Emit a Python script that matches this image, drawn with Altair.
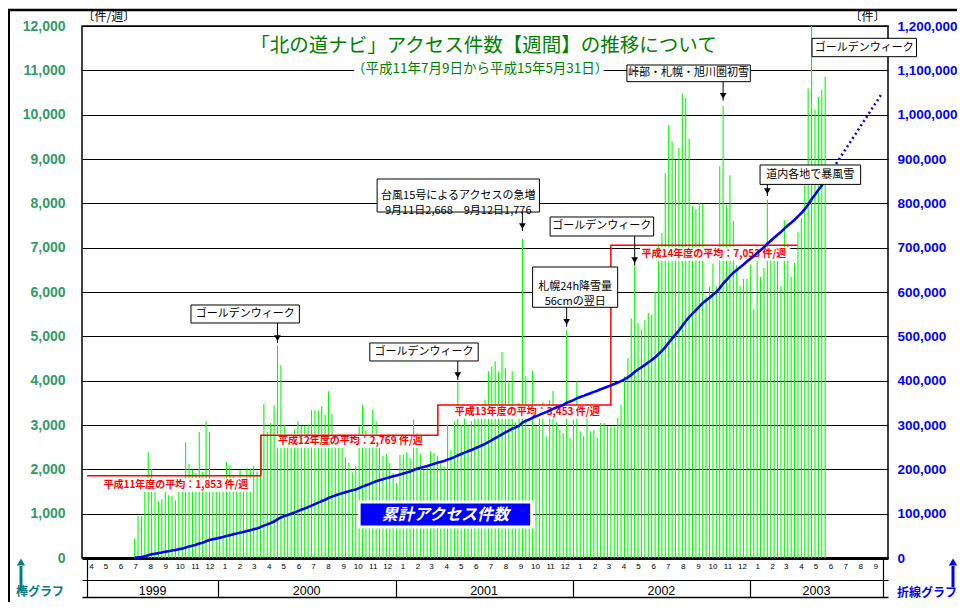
import altair as alt
import pandas as pd

JP = "Noto Sans CJK JP"
NUM = "Liberation Sans"

# ---------------- data ----------------
week_start = "1999-07-14"
weekly_counts = [
    436, 947, 947, 1526, 2383, 2015, 1526, 1286, 1323, 1526,
    1413, 1391, 1300, 1526, 1600, 2609, 2128, 1992, 1917, 2842,
    1940, 3083, 2842, 1600, 1600, 1752, 1752, 2165, 2105, 1880,
    1767, 1977, 1600, 2030, 2015, 2075, 1950, 2782, 3466, 2842,
    3045, 3444, 4797, 4346, 3000, 2700, 2650, 2900, 3090, 2985,
    2985, 3015, 3331, 3331, 3331, 3421, 3233, 3759, 3248, 2684,
    2600, 2481, 2271, 2143, 1932, 2068, 2970, 3459, 2895, 2632,
    3346, 3083, 2481, 2300, 2346, 2143, 1917, 1692, 2331, 2331,
    2383, 2256, 3120, 2820, 2346, 1992, 2053, 2406, 2368, 2308,
    2200, 2068, 3008, 2444, 3083, 3962, 3008, 3195, 3008, 3083,
    3346, 3233, 3400, 3571, 4211, 4323, 4436, 4211, 4647, 4286,
    3985, 4211, 3060, 3496, 7195, 4098, 2932, 4226, 2970, 3286,
    3511, 2744, 3556, 3774, 3060, 2895, 2820, 5135, 2707, 3120,
    3985, 2857, 2744, 3233, 2857, 2895, 2707, 3045, 3045, 2970,
    2970, 2970, 3158, 3459, 4098, 4511, 5400, 6744, 5301, 5150,
    5376, 5526, 5489, 6000, 7068, 7331, 8684, 9774, 9398, 8985,
    9248, 10474, 10376, 9459, 7932, 7872, 8008, 7992, 5902, 6128,
    6639, 6128, 8835, 10203, 7960, 8635, 7603, 6602, 6129, 6292,
    6292, 6618, 5624, 7067, 6346, 6540, 8076, 6734, 6943, 6757,
    6137, 7626, 7083, 6346, 6656, 7355, 7665, 8600, 10593, 12000,
    10113, 10400, 10564, 10850,
]

fy_numbers = [11, 12, 13, 14]
fy_averages = [1853, 2769, 3453, 7053]
fy_starts = ["1999-04-07", "2000-03-30", "2001-03-29", "2002-03-20"]
fy_final_end = "2003-04-08"
fy_label_dates = ["1999-05-11", "2000-05-04", "2001-05-03", "2002-05-22"]
fy_label_values = [1647, 2639, 3293, 6857]

projection_end_date = "2003-09-30"
projection_end_total = 1050000

title_text = "「北の道ナビ」アクセス件数【週間】の推移について"
subtitle_text = "（平成11年7月9日から平成15年5月31日）"
title_date, title_value = "2001-07-01", 11550
subtitle_date, subtitle_value = "2001-06-24", 11040
subtitle_bg = ("2000-10-08", "2002-03-05", 10860, 11200)

sum_box_text = "累計アクセス件数"
sum_box = ("2000-10-18", "2001-10-08", 699, 1263)

ann_texts = [
    "ゴールデンウィーク",
    "ゴールデンウィーク",
    "台風15号によるアクセスの急増\n9月11日2,668　9月12日1,776",
    "ゴールデンウィーク",
    "札幌24h降雪量\n56cmの翌日",
    "峠部・札幌・旭川圏初雪",
    "道内各地で暴風雪",
    "ゴールデンウィーク",
]
ann_x0 = ["1999-11-07", "2000-11-09", "2000-11-24", "2001-11-15", "2001-10-10", "2002-04-22", "2003-01-21", "2003-05-08"]
ann_x1 = ["2000-06-17", "2001-06-20", "2001-10-24", "2002-06-16", "2002-04-03", "2003-01-01", "2003-08-16", "2003-12-09"]
ann_ytop = [5707, 4850, 8549, 7692, 6564, 11120, 8865, 11722]
ann_ybot = [5301, 4444, 7804, 7263, 5655, 10744, 8427, 11308]

arrow_dates = ["2000-05-03", "2001-05-09", "2001-09-19", "2002-05-08", "2001-12-19", "2002-11-06", "2003-02-05"]
arrow_from = [5301, 4444, 7804, 7263, 5655, 10744, 8427]
arrow_tips = [4850, 4015, 7376, 6609, 5217, 10315, 8165]

x_domain = ["1999-04-07", "2003-10-01"]
month_ticks = ([(1999, m) for m in range(4, 13)]
               + [(y, m) for y in (2000, 2001, 2002) for m in range(1, 13)]
               + [(2003, m) for m in range(1, 10)])
year_label_dates = ["1999-08-19", "2000-07-01", "2001-07-01", "2002-07-01", "2003-05-16"]
year_edges = ["2000-01-01", "2001-01-01", "2002-01-01", "2003-01-01"]
left_ticks = list(range(0, 12001, 1000))
right_ticks = list(range(0, 1200001, 100000))


def dt(s):
    y, m, d = (int(p) for p in s.split("-"))
    return alt.DateTime(year=y, month=m, date=d)


# ---------------- tables ----------------
bars_df = pd.DataFrame({
    "date": pd.date_range(week_start, periods=len(weekly_counts), freq="7D"),
    "count": weekly_counts,
})

step_df = pd.DataFrame({
    "date": pd.to_datetime(fy_starts + [fy_final_end]),
    "avg": fy_averages + [fy_averages[-1]],
})

fy_df = pd.DataFrame({
    "date": pd.to_datetime(fy_label_dates),
    "value": fy_label_values,
    "label": [f"平成{n}年度の平均：{a:,} 件/週" for n, a in zip(fy_numbers, fy_averages)],
})
fy_df["bx0"] = fy_df["date"] - pd.Timedelta(days=3)
fy_df["bx1"] = fy_df["date"] + pd.Timedelta(days=306)
fy_df["by0"] = fy_df["value"] - 150
fy_df["by1"] = fy_df["value"] + 150

proj_df = pd.DataFrame({
    "date": [bars_df["date"].iloc[-1], pd.Timestamp(projection_end_date)],
    "total": [sum(weekly_counts), projection_end_total],
})

ann_df = pd.DataFrame({
    "text": ann_texts,
    "x0": pd.to_datetime(ann_x0),
    "x1": pd.to_datetime(ann_x1),
    "ytop": ann_ytop,
    "ybot": ann_ybot,
})
ann_df["xc"] = ann_df["x0"] + (ann_df["x1"] - ann_df["x0"]) / 2
ann_df["yc"] = (ann_df["ytop"] + ann_df["ybot"]) / 2

arrow_df = pd.DataFrame({
    "date": pd.to_datetime(arrow_dates),
    "from": arrow_from,
    "tip": arrow_tips,
})
arrow_df["head"] = arrow_df["tip"] + 110

title_df = pd.DataFrame({"date": pd.to_datetime([title_date]), "value": [title_value], "t": [title_text]})
subtitle_df = pd.DataFrame({"date": pd.to_datetime([subtitle_date]), "value": [subtitle_value], "t": [subtitle_text]})
subbg_df = pd.DataFrame({"x0": pd.to_datetime([subtitle_bg[0]]), "x1": pd.to_datetime([subtitle_bg[1]]),
                         "y0": [subtitle_bg[2]], "y1": [subtitle_bg[3]]})
sumbox_df = pd.DataFrame({"x0": pd.to_datetime([sum_box[0]]), "x1": pd.to_datetime([sum_box[1]]),
                          "y0": [sum_box[2]], "y1": [sum_box[3]], "t": [sum_box_text]})
sumbox_df["xc"] = sumbox_df["x0"] + (sumbox_df["x1"] - sumbox_df["x0"]) / 2
sumbox_df["yc"] = (sumbox_df["y0"] + sumbox_df["y1"]) / 2

one_df = pd.DataFrame({"d": pd.to_datetime(["2001-01-01"]), "k": [0]})

# ---------------- scales / axes ----------------
X_SCALE = alt.Scale(domain=[dt(x_domain[0]), dt(x_domain[1])])
L_SCALE = alt.Scale(domain=[0, 12000], nice=False)
R_SCALE = alt.Scale(domain=[0, 1200000], nice=False)


def X(field, axis=None):
    return alt.X(f"{field}:T", scale=X_SCALE, axis=axis)


def YL(field, axis=None):
    return alt.Y(f"{field}:Q", scale=L_SCALE, axis=axis)


def YR(field, axis=None):
    return alt.Y(f"{field}:Q", scale=R_SCALE, axis=axis)


month_axis = alt.Axis(
    orient="bottom", values=[alt.DateTime(year=y, month=m, date=15) for y, m in month_ticks],
    format="%-m", labelFontSize=8, labelFont=NUM, labelColor="black", ticks=False, tickSize=0,
    domain=True, domainColor="black", domainWidth=3, grid=False, labelPadding=4,
    labelOverlap=False, labelFlush=False, title=None)

left_axis = alt.Axis(
    orient="left", values=left_ticks, format=",d", labelColor="#339966", labelFont=NUM,
    labelFontSize=14, labelFontWeight="bold", labelPadding=17, ticks=False, tickSize=0,
    domain=False, grid=True, gridColor="black", gridWidth=1.2,
    title="〔件/週〕", titleAngle=0, titleX=0, titleY=-3, titleAlign="left",
    titleBaseline="bottom", titleFont=JP, titleFontSize=12, titleFontWeight="normal",
    titleColor="black")

right_axis = alt.Axis(
    orient="right", values=right_ticks, format=",d", labelColor="#0000FF", labelFont=NUM,
    labelFontSize=13.5, labelFontWeight="bold", labelPadding=9, ticks=False, tickSize=0,
    domain=False, grid=False,
    title="〔件〕", titleAngle=0, titleX=-3, titleY=-3, titleAlign="right",
    titleBaseline="bottom", titleFont=JP, titleFontSize=12, titleFontWeight="normal",
    titleColor="black")

edge_axis = alt.Axis(
    orient="bottom", values=[dt(x_domain[0]), dt(x_domain[1])], labels=False,
    tickSize=39, tickColor="black", tickWidth=1.2, domain=False, grid=False, title=None)

yearline_axis = alt.Axis(
    orient="bottom", values=[dt(s) for s in year_edges], labels=False, tickSize=17,
    tickColor="black", tickWidth=1.2, domain=True, domainColor="black", domainWidth=1.2,
    offset=22, grid=False, title=None)

bottomline_axis = alt.Axis(
    orient="bottom", labels=False, ticks=False, domain=True, domainColor="black",
    domainWidth=1.5, offset=39, grid=False, title=None)

yearlabel_axis = alt.Axis(
    orient="bottom", values=[dt(s) for s in year_label_dates], format="%Y", ticks=False,
    tickSize=0, domain=False, labelFontSize=12.5, labelFont=NUM, labelColor="black",
    labelPadding=4, offset=22, labelOverlap=False, labelFlush=False, grid=False, title=None)

# ---------------- layers ----------------
bars = alt.Chart(bars_df).mark_bar(size=1.1, color="#00FF00").encode(
    x=X("date", month_axis), y=YL("count", left_axis))

label_bg = alt.Chart(fy_df).mark_rect(color="white").encode(
    x=X("bx0"), x2="bx1:T", y=YL("by0"), y2="by1:Q")

step = alt.Chart(step_df).mark_line(interpolate="step-after", color="#FF0000", strokeWidth=1.5).encode(
    x=X("date"), y=YL("avg"))

fy_text = alt.Chart(fy_df).mark_text(align="left", baseline="middle", color="#FF0000", fontSize=10,
                                     fontWeight="bold", font=JP).encode(
    x=X("date"), y=YL("value"), text="label:N")

cum = alt.Chart(bars_df).transform_window(
    cum="sum(count)", sort=[alt.SortField("date", order="ascending")], frame=[None, 0]
).mark_line(color="#0000FF", strokeWidth=2.6).encode(x=X("date"), y=YR("cum", right_axis))

proj = alt.Chart(proj_df).mark_line(color="#0000FF", strokeWidth=2.5, strokeDash=[2, 3]).encode(
    x=X("date"), y=YR("total"))

sub_bg = alt.Chart(subbg_df).mark_rect(color="white").encode(
    x=X("x0"), x2="x1:T", y=YL("y0"), y2="y1:Q")

title = alt.Chart(title_df).mark_text(fontSize=19.5, font=JP, color="#008000", align="center",
                                      baseline="middle").encode(x=X("date"), y=YL("value"), text="t:N")
subtitle = alt.Chart(subtitle_df).mark_text(fontSize=13.5, font=JP, color="#008000", align="center",
                                            baseline="middle").encode(x=X("date"), y=YL("value"), text="t:N")

sum_rect = alt.Chart(sumbox_df).mark_rect(color="#0000FF", stroke="white", strokeWidth=3).encode(
    x=X("x0"), x2="x1:T", y=YL("y0"), y2="y1:Q")
sum_text = alt.Chart(sumbox_df).mark_text(fontSize=16, font=JP, color="white", fontWeight="bold",
                                          fontStyle="italic", align="center", baseline="middle").encode(
    x=X("xc"), y=YL("yc"), text="t:N")

arrow_lines = alt.Chart(arrow_df).mark_rule(color="black", strokeWidth=1).encode(
    x=X("date"), y=YL("from"), y2="tip:Q")
arrow_heads = alt.Chart(arrow_df).mark_point(shape="triangle-down", filled=True, color="black",
                                             size=45, opacity=1).encode(x=X("date"), y=YL("head"))

ann_rect = alt.Chart(ann_df).mark_rect(fill="white", stroke="black", strokeWidth=1).encode(
    x=X("x0"), x2="x1:T", y=YL("ybot"), y2="ytop:Q")
ann_text = alt.Chart(ann_df).mark_text(fontSize=11, font=JP, color="black", align="center",
                                       baseline="middle", lineBreak="\n", lineHeight=15).encode(
    x=X("xc"), y=YL("yc"), text="text:N")

# decorations outside the plot (pixel positioned)
deco = alt.Chart(one_df)
frame_top = deco.mark_rule(color="black", strokeWidth=2.5).encode(
    x=alt.value(-74), x2=alt.value(875), y=alt.value(-16))
frame_left = deco.mark_rule(color="black", strokeWidth=2).encode(
    x=alt.value(-73), y=alt.value(-16), y2=alt.value(576))
bar_arrow = deco.mark_rule(color="#008080", strokeWidth=3).encode(
    x=alt.value(-61), y=alt.value(540), y2=alt.value(564))
bar_arrow_head = deco.mark_point(shape="triangle-up", filled=True, color="#008080", size=70, opacity=1).encode(
    x=alt.value(-61), y=alt.value(536))
bar_caption = deco.mark_text(text="棒グラフ", font=JP, fontSize=12, fontWeight="bold", color="#008080",
                             align="center", baseline="middle").encode(x=alt.value(-42), y=alt.value(566))
line_arrow = deco.mark_rule(color="#0000FF", strokeWidth=3).encode(
    x=alt.value(871), y=alt.value(540), y2=alt.value(561))
line_arrow_head = deco.mark_point(shape="triangle-up", filled=True, color="#0000FF", size=70, opacity=1).encode(
    x=alt.value(871), y=alt.value(536))
line_caption = deco.mark_text(text="折線グラフ", font=JP, fontSize=12, fontWeight="bold", color="#0000FF",
                              align="right", baseline="middle").encode(x=alt.value(875), y=alt.value(567))


# extra x axes (year row)
def axis_layer(axis):
    return alt.Chart(one_df).mark_point(opacity=0).encode(x=alt.X("d:T", scale=X_SCALE, axis=axis))


chart = alt.layer(
    bars, label_bg, step, fy_text, cum, proj,
    sub_bg, title, subtitle, sum_rect, sum_text,
    arrow_lines, arrow_heads, ann_rect, ann_text,
    frame_top, frame_left, bar_arrow, bar_arrow_head, bar_caption,
    line_arrow, line_arrow_head, line_caption,
    axis_layer(edge_axis), axis_layer(yearline_axis), axis_layer(bottomline_axis),
    axis_layer(yearlabel_axis),
).resolve_scale(y="independent").resolve_axis(x="independent", y="independent").properties(
    width=806, height=532,
    padding={"left": 74, "top": 18, "right": 69, "bottom": 44},
    autosize=alt.AutoSizeParams(type="none"),
    background="white",
).configure_view(stroke="black", strokeWidth=1.5)

chart.save("out.html", embed_options={"renderer": "svg", "actions": False})
